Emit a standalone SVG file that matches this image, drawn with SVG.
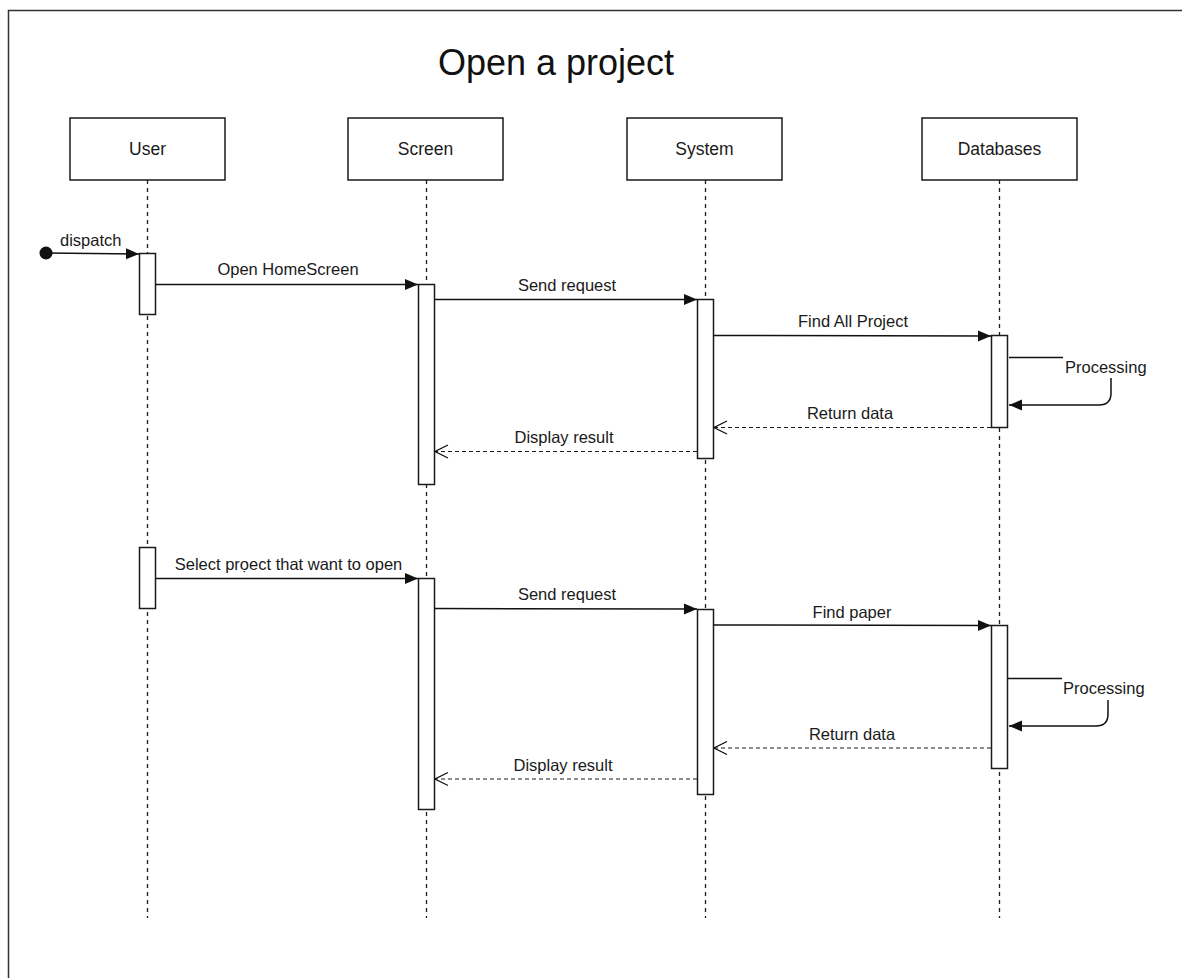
<svg xmlns="http://www.w3.org/2000/svg" width="1182" height="978" viewBox="0 0 1182 978">
  <style>
    .frame { fill: #ffffff; stroke: #333333; stroke-width: 1.5; }
    .head { fill: #ffffff; stroke: #1a1a1a; stroke-width: 1.5; }
    .act { fill: #ffffff; stroke: #1a1a1a; stroke-width: 1.5; }
    .life { fill: none; stroke: #1a1a1a; stroke-width: 1.3; stroke-dasharray: 4 4; }
    .msg { fill: none; stroke: #111111; stroke-width: 1.5; }
    .ret { fill: none; stroke: #1a1a1a; stroke-width: 1.2; stroke-dasharray: 4 3; }
    .title { font-family: "Liberation Sans", Arial, sans-serif; font-size: 36px; fill: #111111; text-anchor: middle; }
    .hl { font-family: "Liberation Sans", Arial, sans-serif; font-size: 17.5px; fill: #1a1a1a; text-anchor: middle; }
    .lbl { font-family: "Liberation Sans", Arial, sans-serif; font-size: 16.5px; fill: #1a1a1a; text-anchor: middle; }
  </style>
  <defs>
    <marker id="solid" markerUnits="userSpaceOnUse" markerWidth="14" markerHeight="14" viewBox="0 0 14 14" refX="13" refY="7" orient="auto">
      <path d="M0,1.5 L13,7 L0,12.5 z" fill="#111111"/>
    </marker>
    <marker id="open" markerUnits="userSpaceOnUse" markerWidth="16" markerHeight="16" viewBox="0 0 16 16" refX="15" refY="8" orient="auto">
      <path d="M2,1.5 L15,8 L2,14.5" fill="none" stroke="#111111" stroke-width="1.3"/>
    </marker>
  </defs>

  <rect class="frame" x="8.5" y="10.5" width="1200" height="1000"/>
  <text class="title" x="556" y="75">Open a project</text>

  <!-- lifeline: User -->
  <g id="user">
    <line class="life" x1="147.5" y1="180" x2="147.5" y2="918"/>
    <rect class="head" x="70" y="118" width="155" height="62"/>
    <text class="hl" x="147.5" y="155">User</text>
    <rect class="act" x="139.5" y="253.5" width="16" height="61"/>
    <rect class="act" x="139.5" y="547.5" width="16" height="61"/>
  </g>

  <!-- lifeline: Screen -->
  <g id="screen">
    <line class="life" x1="426.5" y1="180" x2="426.5" y2="918"/>
    <rect class="head" x="348" y="118" width="155" height="62"/>
    <text class="hl" x="425.5" y="155">Screen</text>
    <rect class="act" x="418.5" y="284.5" width="16" height="200"/>
    <rect class="act" x="418.5" y="578.5" width="16" height="231"/>
  </g>

  <!-- lifeline: System -->
  <g id="system">
    <line class="life" x1="705.5" y1="180" x2="705.5" y2="918"/>
    <rect class="head" x="627" y="118" width="155" height="62"/>
    <text class="hl" x="704.5" y="155">System</text>
    <rect class="act" x="697.5" y="299.5" width="16" height="159"/>
    <rect class="act" x="697.5" y="609.5" width="16" height="185"/>
  </g>

  <!-- lifeline: Databases -->
  <g id="databases">
    <line class="life" x1="999.5" y1="180" x2="999.5" y2="918"/>
    <rect class="head" x="922" y="118" width="155" height="62"/>
    <text class="hl" x="999.5" y="155">Databases</text>
    <rect class="act" x="991.5" y="335.5" width="16" height="92"/>
    <rect class="act" x="991.5" y="625.5" width="16" height="143"/>
  </g>

  <!-- messages -->
  <g id="connectors">
    <!-- first scenario: load the home screen -->
    <circle cx="46" cy="253" r="6.5" fill="#111111"/>
    <path class="msg" d="M46,253 L139,254" marker-end="url(#solid)"/>
    <text class="lbl" x="60" y="246" style="text-anchor:start">dispatch</text>

    <line class="msg" x1="155.5" y1="284.5" x2="418" y2="284.5" marker-end="url(#solid)"/>
    <text class="lbl" x="288" y="275">Open HomeScreen</text>

    <line class="msg" x1="434.5" y1="299.5" x2="697" y2="299.5" marker-end="url(#solid)"/>
    <text class="lbl" x="567" y="291">Send request</text>

    <line class="msg" x1="713.5" y1="335.5" x2="991" y2="336" marker-end="url(#solid)"/>
    <text class="lbl" x="853" y="327">Find All Project</text>

    <path class="msg" d="M1009,357.5 L1063,357.5"/>
    <text class="lbl" x="1065" y="373" style="text-anchor:start">Processing</text>
    <path class="msg" d="M1111,378 L1111,393 Q1111,405 1099,405 L1009,405" marker-end="url(#solid)"/>

    <line class="ret" x1="991" y1="427.5" x2="714" y2="427.5" marker-end="url(#open)"/>
    <text class="lbl" x="850" y="419">Return data</text>

    <line class="ret" x1="697" y1="451.5" x2="435" y2="451.5" marker-end="url(#open)"/>
    <text class="lbl" x="564" y="443">Display result</text>

    <!-- second scenario: open the chosen project -->
    <line class="msg" x1="155.5" y1="578.5" x2="418" y2="578.5" marker-end="url(#solid)"/>
    <text class="lbl" x="288.5" y="570">Select prọect that want to open</text>

    <line class="msg" x1="434.5" y1="608.5" x2="697" y2="609" marker-end="url(#solid)"/>
    <text class="lbl" x="567" y="600">Send request</text>

    <line class="msg" x1="713.5" y1="625" x2="991" y2="625.5" marker-end="url(#solid)"/>
    <text class="lbl" x="852" y="618">Find paper</text>

    <path class="msg" d="M1008,678.5 L1062,678.5"/>
    <text class="lbl" x="1063" y="694" style="text-anchor:start">Processing</text>
    <path class="msg" d="M1108,700 L1108,714 Q1108,726 1096,726 L1009,726" marker-end="url(#solid)"/>

    <line class="ret" x1="991" y1="748" x2="714" y2="748" marker-end="url(#open)"/>
    <text class="lbl" x="852" y="740">Return data</text>

    <line class="ret" x1="697" y1="779" x2="435" y2="779" marker-end="url(#open)"/>
    <text class="lbl" x="563" y="771">Display result</text>
  </g>
</svg>
